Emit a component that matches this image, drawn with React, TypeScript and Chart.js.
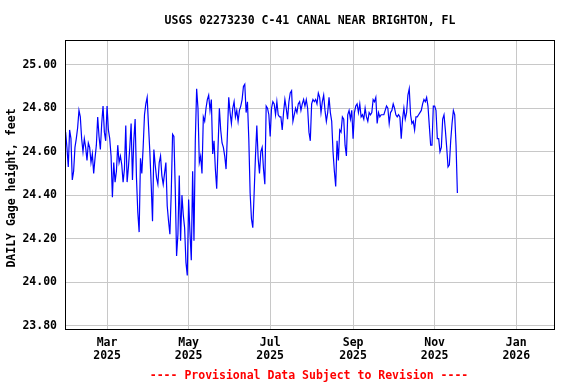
import React, { useEffect, useRef } from "react";
import { Chart, registerables } from "chart.js";

Chart.register(...registerables);

// ---------- data ----------
const startDate = "2025-01-29"; // first daily value
const gageHeight: number[] = [
  24.69, 24.62, 24.53, 24.70, 24.66, 24.47, 24.51, 24.62, 24.66, 24.71,
  24.79, 24.76, 24.66, 24.60, 24.66, 24.62, 24.56, 24.64, 24.62, 24.55,
  24.59, 24.50, 24.57, 24.63, 24.76, 24.67, 24.61, 24.73, 24.81, 24.69,
  24.65, 24.81, 24.70, 24.66, 24.58, 24.39, 24.55, 24.46, 24.51, 24.63,
  24.55, 24.58, 24.54, 24.46, 24.52, 24.72, 24.46,
  24.53, 24.62, 24.73, 24.47, 24.65, 24.75, 24.48, 24.32, 24.23, 24.57,
  24.50, 24.62, 24.77, 24.82, 24.85, 24.72, 24.60, 24.45, 24.28, 24.61,
  24.54, 24.48, 24.45, 24.55, 24.58, 24.49, 24.45, 24.50, 24.55, 24.35,
  24.28, 24.22, 24.41, 24.68, 24.67, 24.43, 24.12, 24.22, 24.49, 24.19,
  24.40, 24.31, 24.25, 24.09, 24.03, 24.38, 24.23, 24.10, 24.51,
  24.19, 24.65, 24.89, 24.80, 24.55, 24.58, 24.50, 24.76, 24.74, 24.80,
  24.84, 24.86, 24.79, 24.84, 24.59, 24.65, 24.52, 24.43, 24.62, 24.80,
  24.70, 24.64, 24.62, 24.58, 24.52, 24.68, 24.85, 24.78, 24.73, 24.80,
  24.83, 24.76, 24.79, 24.74, 24.79, 24.81, 24.84, 24.90, 24.91, 24.78,
  24.83, 24.66, 24.41, 24.29, 24.25, 24.41, 24.58, 24.72, 24.57,
  24.50, 24.60, 24.62, 24.52, 24.45, 24.81, 24.80, 24.77, 24.67, 24.80,
  24.83, 24.82, 24.77, 24.83, 24.77, 24.76, 24.76, 24.70, 24.78, 24.84,
  24.80, 24.75, 24.83, 24.87, 24.88, 24.74, 24.77, 24.80, 24.78, 24.82,
  24.83, 24.79, 24.82, 24.84, 24.81, 24.84, 24.80, 24.69, 24.65, 24.82,
  24.84, 24.83, 24.84, 24.82, 24.87, 24.85, 24.78, 24.83, 24.86, 24.79,
  24.74, 24.78, 24.85,
  24.78, 24.74, 24.60, 24.51, 24.44, 24.65, 24.56, 24.70, 24.69, 24.76,
  24.75, 24.63, 24.58, 24.77, 24.79, 24.75, 24.79, 24.66, 24.78, 24.81,
  24.82, 24.78, 24.82, 24.76, 24.77, 24.75, 24.80, 24.76, 24.74, 24.78,
  24.77, 24.78, 24.84, 24.83, 24.85, 24.73, 24.78, 24.76, 24.77, 24.77,
  24.77, 24.79, 24.81, 24.80, 24.73, 24.78, 24.79, 24.82, 24.80,
  24.77, 24.76, 24.77, 24.76, 24.66, 24.75, 24.80, 24.75, 24.78, 24.86,
  24.89, 24.77, 24.73, 24.74, 24.70, 24.76, 24.76, 24.77, 24.78, 24.79,
  24.82, 24.84, 24.83, 24.85, 24.81, 24.72, 24.63, 24.63, 24.81, 24.81,
  24.79, 24.66, 24.66, 24.60, 24.62, 24.75, 24.77, 24.70, 24.62, 24.53,
  24.54, 24.65, 24.73, 24.79, 24.77, 24.63, 24.41,
];

const monthTicks = ["2025-03-01", "2025-05-01", "2025-07-01", "2025-09-01", "2025-11-01", "2026-01-01"];
const monthLabels = [
  ["Mar", "2025"],
  ["May", "2025"],
  ["Jul", "2025"],
  ["Sep", "2025"],
  ["Nov", "2025"],
  ["Jan", "2026"],
];
const yTicks = [23.8, 24.0, 24.2, 24.4, 24.6, 24.8, 25.0];

const titleText = "USGS 02273230 C-41 CANAL NEAR BRIGHTON, FL";
const yTitleText = "DAILY Gage height, feet";
const footerText = "---- Provisional Data Subject to Revision ----";

// ---------- helpers / config ----------
const DAY = 86400000;
const dayOf = (s: string) =>
  (Date.parse(s + "T00:00:00Z") - Date.parse(startDate + "T00:00:00Z")) / DAY;

const X_MIN = -0.45;
const X_MAX = 366.0;
const Y_MIN = 23.784;
const Y_MAX = 25.114;

const FONT_FAMILY = '"DejaVu Sans Mono", monospace';
const FONT_SIZE = 11.5;
const FONT_CSS = `bold ${FONT_SIZE}px ${FONT_FAMILY}`;
const GRID = "#c8c8c8";

const decor = {
  id: "decor",
  beforeDraw(chart: any) {
    const { ctx, width, height } = chart;
    ctx.save();
    ctx.fillStyle = "#ffffff";
    ctx.fillRect(0, 0, width, height);
    ctx.restore();
  },
  afterDraw(chart: any) {
    const { ctx, chartArea: a } = chart;
    ctx.save();
    ctx.strokeStyle = "#000000";
    ctx.lineWidth = 1;
    ctx.strokeRect(a.left + 0.5, a.top + 0.5, a.right - a.left - 1, a.bottom - a.top);

    ctx.font = FONT_CSS;
    ctx.textAlign = "center";
    ctx.textBaseline = "middle";
    ctx.fillStyle = "#000000";
    const cx = (a.left + a.right) / 2;
    ctx.fillText(titleText, cx, 21);

    ctx.save();
    ctx.translate(12, 188);
    ctx.rotate(-Math.PI / 2);
    ctx.fillText(yTitleText, 0, 0);
    ctx.restore();

    ctx.fillStyle = "#ff0000";
    ctx.fillText(footerText, cx - 1, 376);
    ctx.restore();
  },
};

export default function App() {
  const ref = useRef<HTMLCanvasElement>(null);

  useEffect(() => {
    document.body.style.margin = "0";
    const canvas = ref.current;
    if (!canvas) return;
    const points = gageHeight.map((v, i) => ({ x: i, y: v }));
    const tickFont = { family: FONT_FAMILY, size: FONT_SIZE, weight: "bold" as const, lineHeight: 1.13 };

    const chart = new Chart(canvas, {
      type: "line",
      data: {
        datasets: [
          {
            data: points,
            borderColor: "#0000ff",
            borderWidth: 1.2,
            pointRadius: 0,
            tension: 0,
            fill: false,
          },
        ],
      },
      options: {
        responsive: false,
        animation: false,
        devicePixelRatio: 1,
        layout: { padding: { top: 40, right: 21, bottom: 0, left: 0 } },
        plugins: {
          legend: { display: false },
          tooltip: { enabled: false },
          title: { display: false },
        },
        scales: {
          x: {
            type: "linear",
            min: X_MIN,
            max: X_MAX,
            afterBuildTicks: (s: any) => {
              s.ticks = monthTicks.map((m) => ({ value: dayOf(m) }));
            },
            afterFit: (s: any) => {
              s.height = 55;
            },
            grid: { color: GRID, lineWidth: 1, drawTicks: false },
            border: { display: false },
            ticks: {
              autoSkip: false,
              maxRotation: 0,
              minRotation: 0,
              padding: 7.5,
              color: "#000000",
              font: tickFont,
              callback: (_v: any, i: number) => monthLabels[i],
            },
          },
          y: {
            type: "linear",
            min: Y_MIN,
            max: Y_MAX,
            afterBuildTicks: (s: any) => {
              s.ticks = yTicks.map((v) => ({ value: v }));
            },
            afterFit: (s: any) => {
              s.width = 65;
            },
            grid: { color: GRID, lineWidth: 1, drawTicks: false },
            border: { display: false },
            ticks: {
              padding: 8,
              color: "#000000",
              font: tickFont,
              callback: (v: any) => Number(v).toFixed(2),
            },
          },
        },
      },
      plugins: [decor],
    } as any);

    return () => chart.destroy();
  }, []);

  return (
    <div style={{ width: 576, height: 384 }}>
      <canvas ref={ref} width={576} height={384} style={{ display: "block" }} />
    </div>
  );
}
